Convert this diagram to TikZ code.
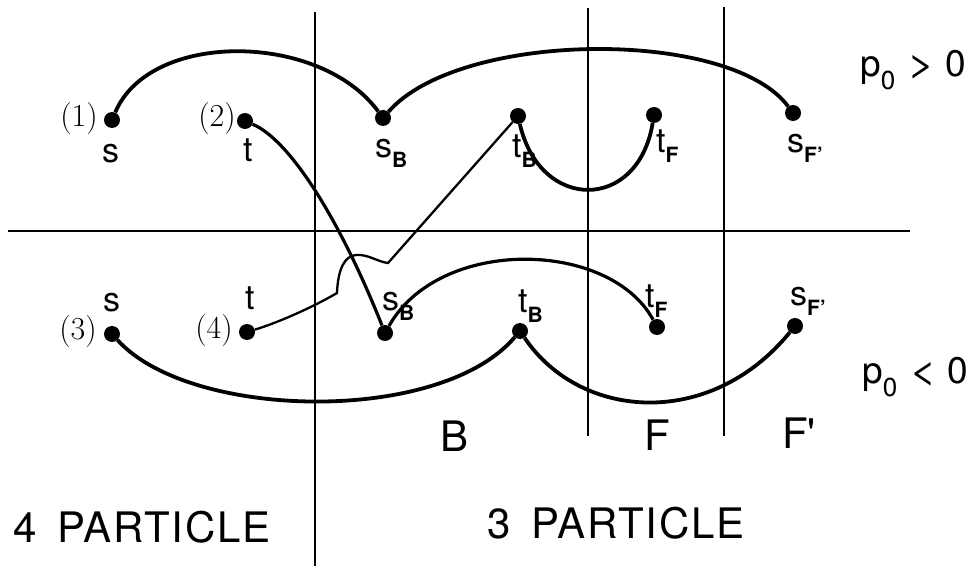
\documentclass[tikz,border=0pt]{standalone}
\usepackage{fontspec}
\newfontfamily\hv{TeX Gyre Heros}
\newfontfamily\hvsp[LetterSpace=4]{TeX Gyre Heros}
\newcommand\mysub[1]{\raisebox{-10pt}{\fontsize{21}{21}\selectfont\bfseries #1}}
\tikzset{
  dot/.style={circle,fill=black,minimum size=16pt,inner sep=0pt},
  arcline/.style={line width=3.8pt},
  thinline/.style={line width=2.3pt},
  frame/.style={line width=1.6pt},
  lbl/.style={font=\hv\fontsize{34}{34}\selectfont,inner sep=0pt},
  num/.style={font=\fontsize{32}{32}\selectfont,inner sep=0pt},
  big/.style={font=\hv\fontsize{42}{42}\selectfont,inner sep=0pt},
  bigsp/.style={font=\hvsp\fontsize{42}{42}\selectfont,inner sep=0pt},
  pee/.style={font=\hv\fontsize{37}{37}\selectfont,inner sep=0pt},
}
\begin{document}
\begin{tikzpicture}[x=1pt,y=-1pt]
\useasboundingbox (0,0) rectangle (977,580);
% frame lines
\coordinate (v1t) at (315,12);  \coordinate (v1b) at (315,566);
\coordinate (v2t) at (588,8);   \coordinate (v2b) at (588,436);
\coordinate (v3t) at (724,7);   \coordinate (v3b) at (724,436);
\coordinate (hl) at (8,231);    \coordinate (hr) at (910,231);
\draw[frame] (v1t) -- (v1b);
\draw[frame] (v2t) -- (v2b);
\draw[frame] (v3t) -- (v3b);
\draw[frame] (hl) -- (hr);
% dots, top row
\node[dot] (s1)  at (112,120) {};
\node[dot] (t2)  at (245,121) {};
\node[dot] (sB1) at (383,118) {};
\node[dot] (tB1) at (518,116) {};
\node[dot] (tF1) at (654,115) {};
\node[dot] (sF1) at (793,113) {};
% dots, bottom row
\node[dot] (s3)  at (112,334) {};
\node[dot] (t4)  at (247,332) {};
\node[dot] (sB2) at (385,333) {};
\node[dot] (tB2) at (520,331) {};
\node[dot] (tF2) at (657,327) {};
\node[dot] (sF2) at (795,326) {};
% connectors
\draw[arcline] (s1) .. controls (150,30) and (320,32) .. (sB1);
\draw[arcline] (sB1) .. controls (460,30) and (730,28) .. (sF1);
\draw[arcline] (tB1) .. controls (540,212) and (638,212) .. (tF1);
\draw[line width=3.2pt] (t2) .. controls (290,140) and (340,220) .. (sB2);
\draw[thinline] (t4) .. controls (280,322) and (315,306) .. (337,293)
   .. controls (338,268) and (345,256) .. (356,255)
   .. controls (368,254) and (378,262) .. (388,263) -- (tB1);
\draw[line width=3.2pt] (sB2) .. controls (440,236) and (610,240) .. (tF2);
\draw[arcline] (s3) .. controls (190,420) and (440,425) .. (tB2);
\draw[arcline] (tB2) .. controls (580,420) and (710,430) .. (sF2);
% labels, top row
\node[num] (n1) at (79,119) {(1)};
\node[num] (n2) at (217,119) {(2)};
\node[lbl] (ls1) at (111,154) {s};
\node[lbl] (lt2) at (248,150) {t};
\node[lbl,anchor=base west] (lsB1) at (375,158) {s\mysub{B}};
\node[lbl,anchor=base west] (ltB1) at (512,158) {t\mysub{B}};
\node[lbl,anchor=base west] (ltF1) at (656,153) {t\mysub{F}};
\node[lbl,anchor=base west] (lsF1) at (787,153) {s\mysub{F\textquoteright}};
% labels, bottom row
\node[num] (n3) at (78,332) {(3)};
\node[num] (n4) at (214,331) {(4)};
\node[lbl] (ls3) at (112,303) {s};
\node[lbl] (lt4) at (250,298) {t};
\node[lbl,anchor=base west] (lsB2) at (382,310) {s\mysub{B}};
\node[lbl,anchor=base west] (ltB2) at (518,312) {t\mysub{B}};
\node[lbl,anchor=base west] (ltF2) at (645,307) {t\mysub{F}};
\node[lbl,anchor=base west] (lsF2) at (790,305) {s\mysub{F\textquoteright}};
% p0 labels
\node[pee,anchor=base west] (pg) at (860,77)
  {p\raisebox{-13pt}{\fontsize{26}{26}\selectfont 0}\hspace{12pt}\scalebox{1.3}[1]{>}\hspace{10pt}0};
\node[pee,anchor=base west] (pl) at (862,383)
  {p\raisebox{-13pt}{\fontsize{26}{26}\selectfont 0}\hspace{12pt}\scalebox{1.3}[1]{<}\hspace{10pt}0};
% region labels
\node[big] (rB) at (455,436) {B};
\node[big] (rF) at (657,435) {F};
\node[big,anchor=base west] (rF2) at (782,448) {F\textquotesingle};
\node[bigsp,anchor=base west] (p4) at (13,542) {4\hspace{0.5em}PARTICLE};
\node[bigsp,anchor=base west] (p3) at (487,538) {3\hspace{0.5em}PARTICLE};
\end{tikzpicture}
\end{document}
